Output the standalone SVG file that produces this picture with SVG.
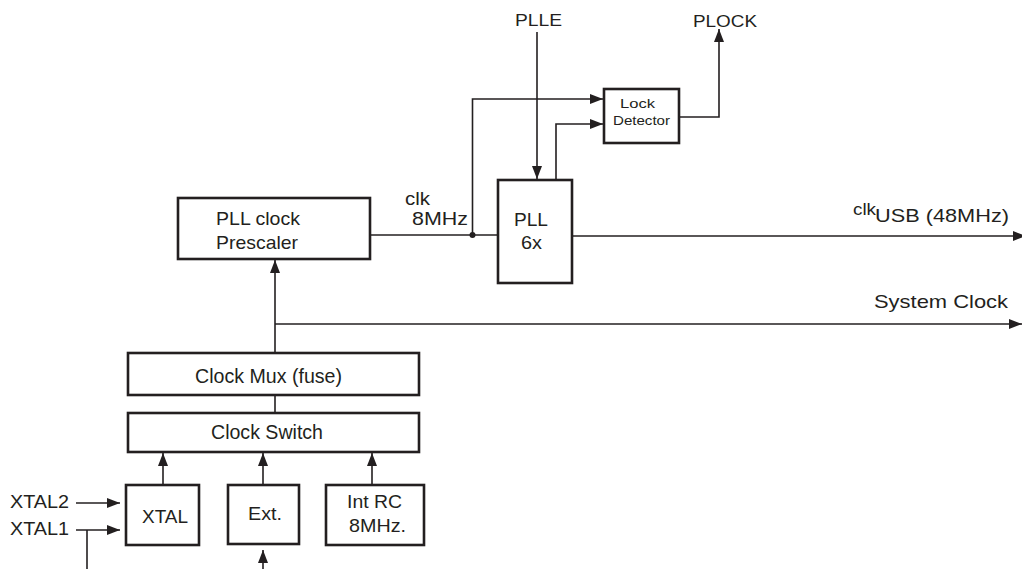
<svg xmlns="http://www.w3.org/2000/svg" width="1022" height="569" viewBox="0 0 1022 569">
<defs>
<marker id="ah" markerUnits="userSpaceOnUse" markerWidth="13" markerHeight="10" viewBox="0 0 13 10" refX="13" refY="5" orient="auto">
<path d="M0,0 L13,5 L0,10 z" fill="#231f20"/>
</marker>
</defs>
<style>
.box{fill:#fff;stroke:#231f20;stroke-width:2.6}
.ln{fill:none;stroke:#231f20;stroke-width:1.6}
text{font-family:"Liberation Sans",Arial,sans-serif;fill:#231f20;font-size:19px}
.sm{font-size:13px}
.md{font-size:16px}
.lg{font-size:20px}
</style>
<rect width="1022" height="569" fill="#fff"/>
<g id="connectors">
<path class="ln" d="M370,235 H498"/>
<circle cx="472.5" cy="235" r="3" fill="#231f20"/>
<path class="ln" d="M472.5,235 V99 H603" marker-end="url(#ah)"/>
<path class="ln" d="M556,180 V124 H603" marker-end="url(#ah)"/>
<path class="ln" d="M537,32 V179" marker-end="url(#ah)"/>
<path class="ln" d="M679,117 H719 V29" marker-end="url(#ah)"/>
<path class="ln" d="M572,236 H1026" marker-end="url(#ah)"/>
<path class="ln" d="M275,324 H1022" marker-end="url(#ah)"/>
<path class="ln" d="M275,353 V260" marker-end="url(#ah)"/>
<path class="ln" d="M275,395 V413"/>
<path class="ln" d="M163,485 V453" marker-end="url(#ah)"/>
<path class="ln" d="M263,485 V453" marker-end="url(#ah)"/>
<path class="ln" d="M372,485 V453" marker-end="url(#ah)"/>
<path class="ln" d="M76,503 H120" marker-end="url(#ah)"/>
<path class="ln" d="M76,530 H120" marker-end="url(#ah)"/>
<path class="ln" d="M87,530 V569"/>
<path class="ln" d="M263,569 V550" marker-end="url(#ah)"/>
</g>
<g id="labels">
<text x="515" y="26" class="md" textLength="47" lengthAdjust="spacingAndGlyphs">PLLE</text>
<text x="693" y="27" class="md" textLength="64" lengthAdjust="spacingAndGlyphs">PLOCK</text>
<text x="405" y="205" textLength="25" lengthAdjust="spacingAndGlyphs">clk</text>
<text x="412" y="225" textLength="56" lengthAdjust="spacingAndGlyphs">8MHz</text>
<text x="853" y="215" class="md" textLength="23" lengthAdjust="spacingAndGlyphs">clk</text>
<text x="875" y="222" textLength="134" lengthAdjust="spacingAndGlyphs">USB (48MHz)</text>
<text x="874" y="308" textLength="134" lengthAdjust="spacingAndGlyphs">System Clock</text>
<text x="10" y="508" textLength="59" lengthAdjust="spacingAndGlyphs">XTAL2</text>
<text x="10" y="535" textLength="59" lengthAdjust="spacingAndGlyphs">XTAL1</text>
</g>
<g id="lock-detector">
<rect class="box" x="604" y="89" width="75" height="54"/>
<text x="620" y="108" class="sm" textLength="35" lengthAdjust="spacingAndGlyphs">Lock</text>
<text x="613" y="125" class="sm" textLength="57" lengthAdjust="spacingAndGlyphs">Detector</text>
</g>
<g id="pll">
<rect class="box" x="498" y="180" width="74" height="103"/>
<text x="514" y="226" textLength="34" lengthAdjust="spacingAndGlyphs">PLL</text>
<text x="521" y="249" textLength="21" lengthAdjust="spacingAndGlyphs">6x</text>
</g>
<g id="prescaler">
<rect class="box" x="178" y="198" width="192" height="61"/>
<text x="216" y="225" textLength="84" lengthAdjust="spacingAndGlyphs">PLL clock</text>
<text x="216" y="249" textLength="82" lengthAdjust="spacingAndGlyphs">Prescaler</text>
</g>
<g id="clock-mux">
<rect class="box" x="128" y="353" width="291" height="42"/>
<text x="195" y="383" class="lg" textLength="147" lengthAdjust="spacingAndGlyphs">Clock Mux (fuse)</text>
</g>
<g id="clock-switch">
<rect class="box" x="128" y="413" width="291" height="39"/>
<text x="211" y="439" class="lg" textLength="112" lengthAdjust="spacingAndGlyphs">Clock Switch</text>
</g>
<g id="xtal">
<rect class="box" x="126" y="485" width="73" height="60"/>
<text x="142" y="523" textLength="46" lengthAdjust="spacingAndGlyphs">XTAL</text>
</g>
<g id="ext">
<rect class="box" x="228" y="485" width="71" height="59"/>
<text x="248" y="520" textLength="34" lengthAdjust="spacingAndGlyphs">Ext.</text>
</g>
<g id="int-rc">
<rect class="box" x="326" y="485" width="98" height="60"/>
<text x="347" y="508" textLength="55" lengthAdjust="spacingAndGlyphs">Int RC</text>
<text x="349" y="532" textLength="57" lengthAdjust="spacingAndGlyphs">8MHz.</text>
</g>
</svg>
